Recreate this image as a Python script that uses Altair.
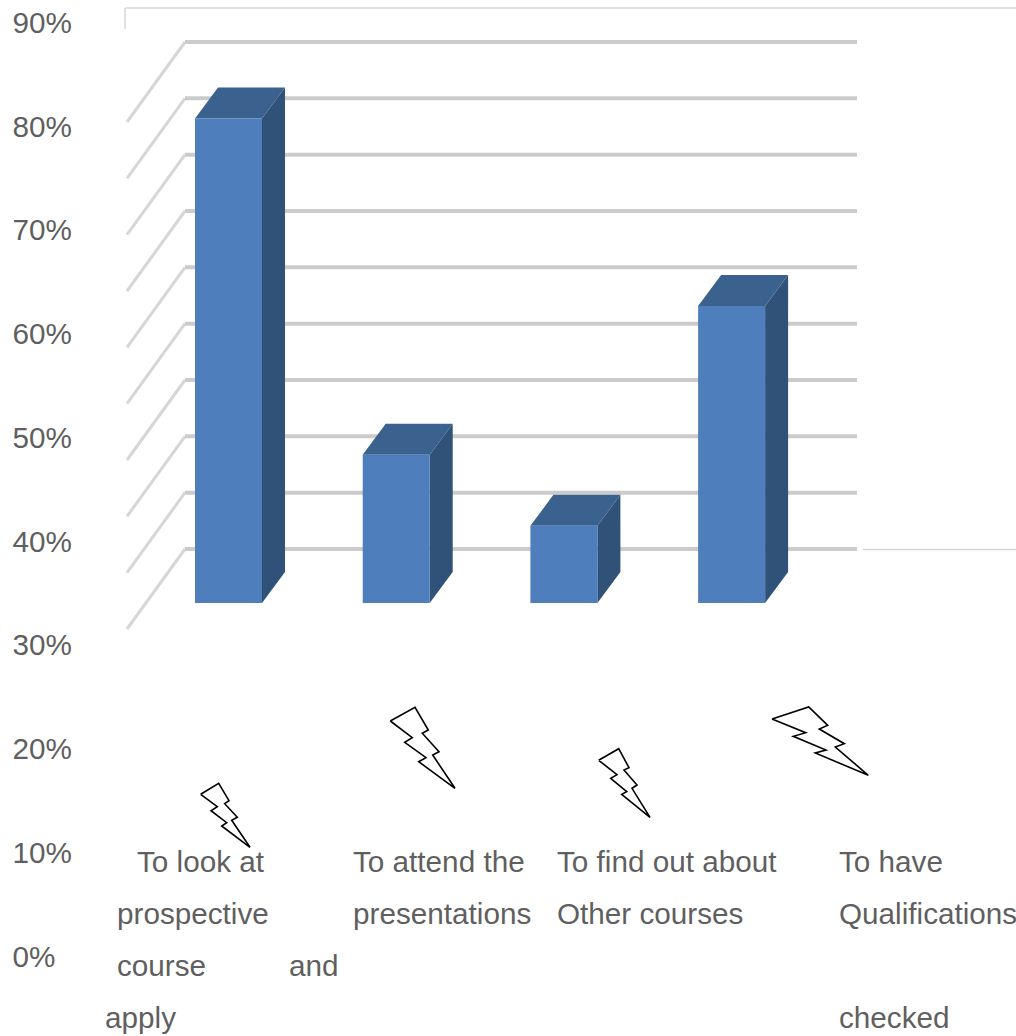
import altair as alt
import pandas as pd

# Survey answers and their percentages
categories = ["To look at prospective course and apply", "To attend the presentations",
              "To find out about Other courses", "To have Qualifications checked"]
values = [86.0, 26.3, 13.7, 52.7]
wall_ticks = [0, 10, 20, 30, 40, 50, 60, 70, 80, 90]
axis_ticks = [0, 10, 20, 30, 40, 50, 60, 70, 80, 90]

label_text = ["To look at", "prospective", "course", "and", "apply",
              "To attend the", "presentations",
              "To find out about", "Other courses",
              "To have", "Qualifications", "checked"]
label_left = [137, 117, 117, 289, 105, 353, 353, 557, 557, 839, 839, 839]
label_base = [872, 924, 976, 976, 1028, 872, 924, 872, 924, 872, 924, 1028]

bolt_a_x = [200.7, 218.7, 229, 224.7, 237.3, 231.7, 250, 221.7, 226.7, 211, 217.3]
bolt_a_y = [794.3, 783.3, 800.7, 803.7, 817.3, 820.3, 847.3, 826, 822.7, 810.7, 806.7]
bolt_b_x = [390.3, 415, 428.3, 422.3, 439, 432.7, 455, 418.7, 426, 404.7, 412.3]
bolt_b_y = [721, 707.3, 730, 733.3, 751.7, 755, 788.3, 761.7, 757.7, 742.3, 737.7]
bolt_c_x = [598.7, 618.7, 629, 624, 637, 632, 650, 621.7, 626.7, 610.7, 617]
bolt_c_y = [760.3, 748.7, 767.7, 770, 785, 788.3, 817.3, 794.3, 791.7, 778.3, 774.7]
bolt_d_x = [772, 808.7, 827.7, 819.3, 844.3, 835.3, 868.3, 815.3, 826, 793.3, 805.7]
bolt_d_y = [719, 707, 725.3, 729, 743.7, 747, 775.3, 753, 750, 736.3, 732.7]

W, H = 1016, 1036
GREY = "#5f5f5f"
FONT = "Liberation Sans"
SIZE = 29.7

# Wall scale: 0% sits at pixel 549, 90% at pixel 42
wall_unit = (549 - 42) / 90
wall_domain = [(549 - H) / wall_unit, 549 / wall_unit]
# Printed axis scale
axis_unit = (957.3 - 23.3) / 90
axis_domain = [-(H - 957.3) / axis_unit, 90 + 23.3 / axis_unit]

x_px = alt.Scale(domain=[0, W], range=[0, W], nice=False, zero=False)
y_wall = alt.Scale(domain=wall_domain, range=[H, 0], nice=False, zero=False)

# Bar geometry, in wall units for heights
floor = (549 - 603) / wall_unit
depth_x, depth_y = 23, 31 / wall_unit
bar_width, first_left, spacing = 67, 195, 167.7
lefts = [first_left + i * spacing for i in range(len(values))]

fronts = pd.DataFrame({"cat": categories, "x": lefts, "x2": [v + bar_width for v in lefts],
                       "y": [floor + v for v in values], "y2": [floor] * len(values)})

side_rows, top_rows = [], []
for cat, left, v in zip(categories, lefts, values):
    right = left + bar_width
    top = floor + v
    side_rows += [{"cat": cat, "x": right, "y": top, "y2": floor},
                  {"cat": cat, "x": right + depth_x, "y": top + depth_y, "y2": floor + depth_y}]
    top_rows += [{"cat": cat, "y": top, "x": left, "x2": right},
                 {"cat": cat, "y": top + depth_y, "x": left + depth_x, "x2": right + depth_x}]
sides = pd.DataFrame(side_rows)
tops = pd.DataFrame(top_rows)

grid = pd.DataFrame({"v": wall_ticks, "x": [185] * 10, "x2": [857] * 10})
diag = pd.DataFrame({"v": wall_ticks, "front": [t - 80 / wall_unit for t in wall_ticks],
                     "x": [127] * 10, "x2": [185] * 10})

bolt_rows = []
for name, xs, ys in [("a", bolt_a_x, bolt_a_y), ("b", bolt_b_x, bolt_b_y),
                     ("c", bolt_c_x, bolt_c_y), ("d", bolt_d_x, bolt_d_y)]:
    for i, (bx, by) in enumerate(zip(xs + xs[:1], ys + ys[:1])):
        bolt_rows.append({"bolt": name, "i": i, "x": bx, "y": by})
bolts = pd.DataFrame(bolt_rows)

labels = pd.DataFrame({"t": label_text, "x": label_left, "y": label_base})

X = alt.X("x:Q", scale=x_px, axis=None)
X2 = alt.X2("x2:Q")
Y = alt.Y("y:Q", scale=y_wall, axis=None)
Y2 = alt.Y2("y2:Q")

axis_layer = alt.Chart(pd.DataFrame({"t": axis_ticks})).mark_point(opacity=0).encode(
    x=alt.X("t:Q", scale=x_px, axis=None),
    y=alt.Y("t:Q", scale=alt.Scale(domain=axis_domain, range=[H, 0], nice=False, zero=False),
            axis=alt.Axis(orient="left", values=axis_ticks, labelExpr="datum.value + '%'", title=None,
                          domain=False, ticks=False, grid=False, labelFont=FONT, labelFontSize=SIZE,
                          labelColor=GREY, labelAlign="left", labelPadding=0, offset=-12)),
)

grid_layer = alt.Chart(grid).mark_rule(color="#cbcbcb", strokeWidth=4).encode(
    x=X, x2=X2, y=alt.Y("v:Q", scale=y_wall, axis=None))
diag_layer = alt.Chart(diag).mark_rule(color="#d6d6d6", strokeWidth=3).encode(
    x=X, x2=X2, y=alt.Y("front:Q", scale=y_wall, axis=None), y2=alt.Y2("v:Q"))

frame_color = "#d6d6d6"
frame_top = alt.Chart(pd.DataFrame({"k": [0]})).mark_rule(color=frame_color, strokeWidth=1.5).encode(
    x=alt.value(125), x2=alt.value(W), y=alt.value(8))
frame_left = alt.Chart(pd.DataFrame({"k": [0]})).mark_rule(color=frame_color, strokeWidth=1.5).encode(
    x=alt.value(125), y=alt.value(8), y2=alt.value(29))
floor_right = alt.Chart(pd.DataFrame({"k": [0]})).mark_rule(color=frame_color, strokeWidth=1.5).encode(
    x=alt.value(863), x2=alt.value(W), y=alt.value(549.5))

side_layer = alt.Chart(sides).mark_area(color="#315278", orient="vertical").encode(
    x=X, y=Y, y2=Y2, detail="cat:N")
top_layer = alt.Chart(tops).mark_area(color="#3b628f", orient="horizontal").encode(
    y=Y, x=X, x2=X2, detail="cat:N")
front_layer = alt.Chart(fronts).mark_rect(color="#4e7ebc").encode(x=X, x2=X2, y=Y, y2=Y2)

bolt_layer = alt.Chart(bolts).mark_line(color="black", strokeWidth=1.6, strokeJoin="miter").encode(
    x=X,
    y=alt.Y("y:Q", scale=alt.Scale(domain=[H, 0], range=[H, 0], nice=False, zero=False), axis=None),
    detail="bolt:N", order="i:Q")

text_layer = alt.Chart(labels).mark_text(font=FONT, fontSize=SIZE, color=GREY, align="left",
                                         baseline="alphabetic").encode(
    x=X,
    y=alt.Y("y:Q", scale=alt.Scale(domain=[H, 0], range=[H, 0], nice=False, zero=False), axis=None),
    text="t:N")

chart = alt.layer(
    axis_layer, frame_top, frame_left, floor_right, diag_layer, grid_layer,
    side_layer, top_layer, front_layer, bolt_layer, text_layer,
).resolve_scale(y="independent").properties(
    width=W, height=H, padding=0, autosize=alt.AutoSizeParams(type="none"),
    background="white",
).configure_view(stroke=None)

chart.save("out.html", embed_options={"renderer": "svg", "actions": False})
